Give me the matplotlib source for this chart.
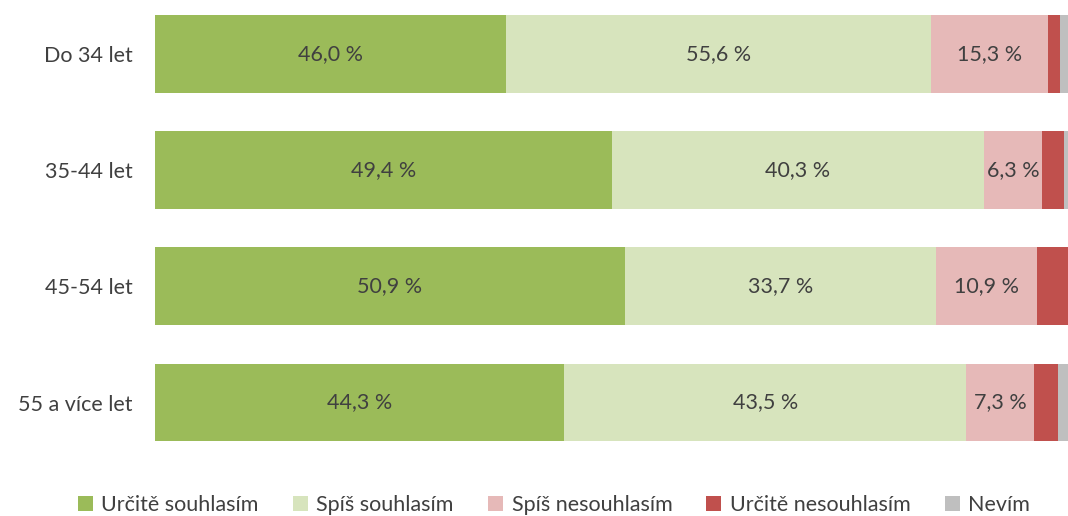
import matplotlib
matplotlib.use('Agg')
import matplotlib.pyplot as plt
import numpy as np

# categories and series (red/grey estimated)
groups = ['Do 34 let', '35-44 let', '45-54 let', '55 a více let']
series = ['Určitě souhlasím', 'Spíš souhlasím', 'Spíš nesouhlasím', 'Určitě nesouhlasím', 'Nevím']
urcite_ano = [46.0, 49.4, 50.9, 44.3]
spis_ano = [55.6, 40.3, 33.7, 43.5]
spis_ne = [15.3, 6.3, 10.9, 7.3]
urcite_ne = [1.6, 2.4, 3.4, 2.6]
nevim = [1.0, 0.4, 0.0, 1.1]
labelled = [True, True, True, False, False]

colors = ['#9BBB59', '#D7E4BD', '#E6B9B8', '#C0504D', '#BFBFBF']

plt.rcParams['font.family'] = ['Lato', 'DejaVu Sans']
fs = 15.5

data = np.array([urcite_ano, spis_ano, spis_ne, urcite_ne, nevim])
share = data / data.sum(axis=0) * 100  # 100% stacked

fig = plt.figure(figsize=(10.68, 5.16), dpi=100)
ax = fig.add_axes([155/1068, 1 - 460/516, 1 - 155/1068, 460/516])

y = np.arange(len(groups))
left = np.zeros(len(groups))
for i, name in enumerate(series):
    bars = ax.barh(y, share[i], left=left, height=0.67, color=colors[i], label=name)
    if labelled[i]:
        for j, b in enumerate(bars):
            txt = ('%.1f %%' % data[i, j]).replace('.', ',')
            ax.text(left[j] + share[i, j] / 2, y[j], txt, ha='center', va='center',
                    fontsize=fs, color='#404040')
    left += share[i]

ax.set_xlim(0, 100)
ax.set_ylim(3 + 57.5/116.2, -54/116.2)
ax.set_yticks(y)
ax.set_yticklabels(groups, fontsize=fs, color='#404040')
ax.tick_params(axis='y', length=0, pad=16)
ax.set_xticks([])
for s in ax.spines.values():
    s.set_visible(False)

fig.legend(loc='center', bbox_to_anchor=(554/1068, 11/516), ncol=5, frameon=False,
           fontsize=fs, labelcolor='#404040', handlelength=0.7, handleheight=0.7,
           handletextpad=0.4, columnspacing=1.58)

fig.savefig('out.png', dpi=100)
